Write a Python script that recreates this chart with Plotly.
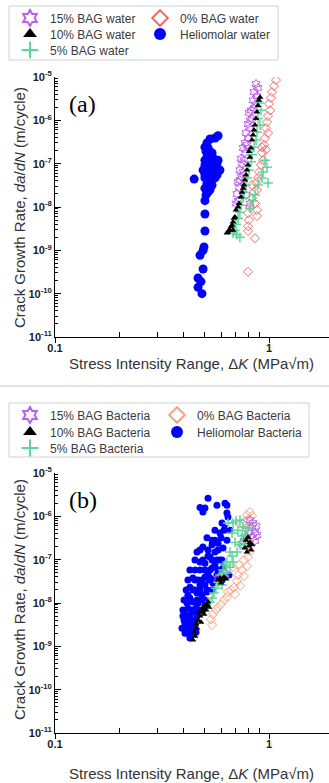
import plotly.graph_objects as go

# ---------------- data (ΔK in MPa√m, da/dN in m/cycle) ----------------
# Panel (a): water
WATER_15 = [(0.870, 6.9e-6), (0.888, 5.6e-6), (0.851, 4.5e-6), (0.879, 3.6e-6), (0.842, 2.9e-6),
            (0.860, 2.3e-6), (0.851, 1.9e-6), (0.824, 1.7e-6), (0.806, 1.5e-6), (0.833, 1.1e-6),
            (0.815, 1.0e-6), (0.798, 8.2e-7), (0.815, 6.6e-7), (0.781, 5.1e-7), (0.798, 3.9e-7),
            (0.772, 3.0e-7), (0.789, 2.7e-7), (0.757, 2.3e-7), (0.772, 1.8e-7), (0.740, 1.3e-7),
            (0.764, 1.2e-7), (0.748, 1.0e-7), (0.731, 7.1e-8), (0.757, 6.4e-8), (0.740, 5.1e-8),
            (0.731, 4.2e-8), (0.717, 3.8e-8), (0.724, 2.8e-8), (0.708, 2.0e-8), (0.717, 1.4e-8),
            (0.701, 1.2e-8), (0.815, 1.2e-8), (0.781, 1.9e-8)]
WATER_10 = [(0.908, 3.4e-6), (0.898, 2.9e-6), (0.888, 2.2e-6), (0.879, 1.55e-6), (0.870, 1.1e-6),
            (0.860, 7.8e-7), (0.851, 6.0e-7), (0.842, 4.6e-7), (0.833, 3.5e-7), (0.824, 2.3e-7),
            (0.806, 1.9e-7), (0.815, 1.4e-7), (0.798, 9.3e-8), (0.789, 7.1e-8), (0.781, 5.5e-8),
            (0.772, 4.2e-8), (0.764, 3.2e-8), (0.757, 2.7e-8), (0.748, 2.2e-8), (0.740, 1.7e-8),
            (0.724, 1.2e-8), (0.717, 1.0e-8), (0.701, 8.5e-9), (0.693, 5.9e-9), (0.686, 5.5e-9),
            (0.679, 4.5e-9), (0.672, 3.8e-9), (0.664, 3.5e-9), (0.657, 2.9e-9), (0.679, 2.9e-9),
            (0.650, 2.9e-9), (0.643, 2.6e-9), (0.636, 2.5e-9)]
WATER_5 = [(0.898, 2.5e-6), (0.918, 1.7e-6), (0.888, 1.1e-6), (0.908, 7.8e-7), (0.879, 5.4e-7),
           (0.870, 3.5e-7), (0.851, 2.4e-7), (0.833, 1.6e-7), (0.824, 1.1e-7), (0.806, 7.1e-8),
           (0.789, 4.7e-8), (0.781, 3.2e-8), (0.764, 2.2e-8), (0.757, 1.6e-8), (0.740, 1.1e-8),
           (0.731, 7.6e-9), (0.717, 5.5e-9), (0.701, 4.0e-9), (0.693, 2.9e-9), (0.708, 2.3e-9),
           (0.679, 2.5e-9), (0.731, 2.0e-9), (0.958, 1.2e-7), (0.979, 8.3e-8), (0.938, 6.4e-8),
           (0.989, 3.6e-8), (0.927, 4.7e-8), (0.888, 3.2e-8), (0.860, 1.9e-8), (0.842, 1.4e-8),
           (0.815, 9.3e-9)]
WATER_0 = [(1.078, 8.5e-6), (1.055, 6.2e-6), (1.033, 4.5e-6), (1.022, 3.3e-6), (1.000, 2.4e-6),
           (1.011, 1.7e-6), (0.989, 1.26e-6), (0.979, 9.1e-7), (0.968, 6.6e-7), (0.989, 5.1e-7),
           (0.958, 3.9e-7), (0.948, 2.7e-7), (0.927, 2.4e-7), (0.968, 2.1e-7), (0.927, 1.8e-7),
           (0.938, 1.2e-7), (0.918, 9.3e-8), (0.898, 6.4e-8), (0.888, 4.7e-8), (0.870, 3.6e-8),
           (0.833, 3.2e-8), (0.879, 2.5e-8), (0.851, 2.2e-8), (0.833, 1.6e-8), (0.860, 1.2e-8),
           (0.815, 1.0e-8), (0.879, 8.5e-9), (0.798, 7.3e-9), (0.879, 6.2e-9), (0.806, 5.0e-9),
           (0.798, 3.6e-9), (0.798, 2.8e-9), (0.860, 1.9e-9), (0.798, 3.2e-10)]
HELIO_WATER = [(0.578, 4.4e-7), (0.560, 3.9e-7), (0.530, 3.7e-7), (0.513, 3.0e-7), (0.502, 2.4e-7),
               (0.519, 2.3e-7), (0.530, 1.9e-7), (0.508, 1.9e-7), (0.542, 1.76e-7), (0.513, 1.4e-7),
               (0.548, 1.35e-7), (0.502, 1.2e-7), (0.578, 1.2e-7), (0.519, 1.1e-7), (0.572, 1.03e-7),
               (0.548, 1.0e-7), (0.502, 9.3e-8), (0.530, 8.3e-8), (0.560, 7.9e-8), (0.492, 7.1e-8),
               (0.590, 7.1e-8), (0.542, 6.4e-8), (0.513, 6.1e-8), (0.572, 5.5e-8), (0.502, 5.5e-8),
               (0.502, 4.7e-8), (0.560, 4.7e-8), (0.447, 4.4e-8), (0.530, 4.2e-8), (0.513, 3.5e-8),
               (0.542, 3.2e-8), (0.502, 2.7e-8), (0.530, 2.5e-8), (0.519, 2.2e-8), (0.508, 1.9e-8),
               (0.502, 1.4e-8), (0.502, 6.9e-9), (0.502, 2.8e-9), (0.497, 1.2e-9), (0.492, 1.0e-9),
               (0.476, 7.7e-10), (0.492, 3.7e-10), (0.466, 2.3e-10), (0.481, 1.9e-10), (0.466, 1.4e-10),
               (0.486, 1.0e-10)]

# Panel (b): bacteria
BACT_15 = [(0.815, 8.2e-7), (0.842, 7.0e-7), (0.870, 6.0e-7), (0.833, 5.4e-7), (0.860, 4.3e-7),
           (0.806, 4.6e-7), (0.879, 3.7e-7), (0.842, 3.3e-7), (0.789, 3.3e-7), (0.860, 2.7e-7),
           (0.764, 2.7e-7), (0.748, 2.3e-7), (0.603, 4.4e-8), (0.578, 3.6e-8), (0.623, 4.6e-8)]
BACT_10 = [(0.441, 1.4e-9), (0.451, 1.7e-9), (0.446, 2.1e-9), (0.461, 2.6e-9), (0.456, 3.3e-9),
           (0.466, 4.0e-9), (0.476, 5.0e-9), (0.471, 6.2e-9), (0.486, 6.2e-9), (0.491, 7.6e-9),
           (0.502, 8.5e-9), (0.513, 9.4e-9), (0.519, 1.05e-8), (0.497, 5.5e-9), (0.508, 6.9e-9),
           (0.524, 8.0e-9), (0.481, 3.6e-9), (0.578, 3.4e-8), (0.590, 3.8e-8), (0.603, 3.4e-8),
           (0.616, 4.0e-8), (0.630, 3.6e-8), (0.597, 2.9e-8), (0.781, 2.8e-7), (0.798, 3.3e-7),
           (0.815, 2.5e-7), (0.806, 2.06e-7), (0.824, 1.67e-7), (0.789, 1.5e-7), (0.833, 2.2e-7),
           (0.772, 1.85e-7)]
BACT_5 = [(0.679, 7.0e-7), (0.701, 7.8e-7), (0.732, 8.2e-7), (0.756, 5.7e-7), (0.716, 4.8e-7),
          (0.672, 4.1e-7), (0.748, 3.5e-7), (0.772, 3.7e-7), (0.694, 2.5e-7), (0.732, 2.2e-7),
          (0.709, 1.5e-7), (0.672, 1.21e-7), (0.657, 1.5e-7), (0.636, 8.8e-8), (0.679, 8.8e-8),
          (0.623, 7.5e-8), (0.657, 6.7e-8), (0.610, 5.8e-8), (0.636, 4.9e-8), (0.590, 4.4e-8),
          (0.578, 3.0e-8), (0.603, 2.6e-8), (0.565, 2.2e-8), (0.553, 1.7e-8), (0.542, 1.3e-8),
          (0.530, 1.05e-8), (0.764, 2.2e-7), (0.798, 5.4e-7), (0.643, 7.0e-7)]
BACT_0 = [(0.815, 1.26e-6), (0.833, 1.02e-6), (0.789, 1.07e-6), (0.798, 8.2e-7), (0.772, 7.8e-7),
          (0.756, 6.6e-7), (0.781, 5.4e-7), (0.806, 4.1e-7), (0.798, 2.2e-7), (0.815, 1.58e-7),
          (0.798, 1.15e-7), (0.764, 9.8e-8), (0.789, 7.1e-8), (0.748, 5.8e-8), (0.764, 4.2e-8),
          (0.716, 4.4e-8), (0.709, 3.2e-8), (0.732, 2.5e-8), (0.686, 2.3e-8), (0.664, 2.0e-8),
          (0.694, 1.6e-8), (0.636, 1.37e-8), (0.616, 1.17e-8), (0.597, 9.4e-9), (0.578, 8.0e-9),
          (0.565, 6.9e-9), (0.547, 5.5e-9), (0.536, 4.2e-9), (0.542, 3.1e-9), (0.643, 1.8e-8),
          (0.679, 6.7e-8), (0.724, 7.5e-8), (0.781, 2.8e-7)]
HELIO_BACT = [(0.519, 2.6e-6), (0.476, 1.6e-6), (0.502, 1.55e-6), (0.491, 1.26e-6), (0.571, 1.8e-6),
              (0.623, 2.0e-6), (0.636, 1.8e-6), (0.636, 1.19e-6), (0.643, 9.6e-7), (0.603, 7.0e-7),
              (0.623, 5.4e-7), (0.513, 3.2e-7), (0.590, 4.1e-7), (0.578, 2.4e-7), (0.461, 1.5e-7),
              (0.491, 1.95e-7), (0.559, 1.5e-7), (0.610, 1.85e-7), (0.530, 1.15e-7), (0.502, 8.3e-8),
              (0.571, 9.8e-8), (0.476, 5.8e-8), (0.542, 6.4e-8), (0.610, 6.7e-8), (0.441, 3.8e-8),
              (0.502, 4.0e-8), (0.571, 4.4e-8), (0.427, 2.3e-8), (0.476, 2.6e-8), (0.547, 2.9e-8),
              (0.418, 1.5e-8), (0.461, 1.7e-8), (0.513, 1.8e-8), (0.414, 1.0e-8), (0.441, 1.05e-8),
              (0.491, 1.17e-8), (0.405, 5.8e-9), (0.437, 6.2e-9), (0.476, 6.9e-9), (0.405, 3.4e-9),
              (0.437, 3.6e-9), (0.414, 2.1e-9), (0.441, 2.4e-9), (0.405, 2.0e-9), (0.427, 1.8e-9),
              (0.650, 4.4e-8), (0.603, 3.4e-8), (0.427, 1.55e-9), (0.451, 5.8e-8), (0.519, 4.4e-8),
              (0.466, 3.4e-8), (0.502, 2.6e-8), (0.530, 3.8e-8), (0.451, 2.0e-8), (0.486, 1.5e-8),
              (0.427, 1.3e-8), (0.466, 1.0e-8), (0.418, 7.6e-9), (0.456, 7.6e-9), (0.502, 8.9e-9),
              (0.427, 5.0e-9), (0.461, 5.0e-9), (0.414, 4.0e-9), (0.451, 3.1e-9), (0.418, 2.8e-9),
              (0.456, 2.1e-9), (0.392, 2.6e-9), (0.396, 5.0e-9), (0.559, 7.5e-8), (0.590, 9.8e-8),
              (0.542, 2.2e-7), (0.519, 1.21e-7), (0.476, 8.8e-8), (0.636, 2.8e-7), (0.657, 4.8e-7),
              (0.597, 3.2e-7),
              (0.418, 3.4e-8), (0.451, 3.4e-8), (0.486, 3.4e-8), (0.524, 3.4e-8), (0.553, 3.4e-8),
              (0.410, 2.0e-8), (0.441, 2.0e-8), (0.476, 2.0e-8), (0.513, 2.0e-8), (0.542, 2.0e-8),
              (0.401, 1.17e-8), (0.427, 1.17e-8), (0.461, 1.17e-8), (0.502, 1.17e-8),
              (0.396, 6.9e-9), (0.437, 6.9e-9), (0.461, 6.9e-9), (0.491, 6.9e-9),
              (0.401, 4.0e-9), (0.427, 4.0e-9), (0.451, 4.0e-9), (0.405, 2.6e-9), (0.432, 2.6e-9),
              (0.427, 5.8e-8), (0.502, 5.8e-8), (0.530, 5.8e-8), (0.578, 5.8e-8),
              (0.451, 9.8e-8), (0.491, 9.8e-8), (0.542, 9.8e-8), (0.603, 9.8e-8),
              (0.476, 1.67e-7), (0.519, 1.67e-7), (0.578, 1.67e-7),
              (0.542, 2.8e-7), (0.559, 2.8e-7), (0.559, 4.8e-7), (0.616, 4.8e-7)]

Y_TICKS = [1e-11, 1e-10, 1e-9, 1e-8, 1e-7, 1e-6, 1e-5]
Y_TICK_TEXT = ["10<sup>-11</sup>", "10<sup>-10</sup>", "10<sup>-9</sup>", "10<sup>-8</sup>",
               "10<sup>-7</sup>", "10<sup>-6</sup>", "10<sup>-5</sup>"]
X_TICKS = [0.1, 1]
X_TICK_TEXT = ["0.1", "1"]
X_MINOR = [0.2, 0.3, 0.4, 0.5, 0.6, 0.7, 0.8, 0.9]

# ---------------- styling / layout ----------------
W, H = 329, 783
ML, MR, MT, MB = 55, 0, 77, 50
PW, PH = W - ML - MR, H - MT - MB
XMAX = -1 + (W - ML) / 214.0          # log10 of right edge (one decade = 214 px)

def fx(px):
    return (px - ML) / PW

def fy(py):
    return (H - MB - py) / PH

FONT = "Liberation Sans, Arial, sans-serif"
VIOLET = "#BF5FEE"
GREEN = "#5ED69A"
RED = "#F26A6A"
SALMON = "#F5A27F"
BLUE = "#0000FF"
BLACK = "#000000"

fig = go.Figure()

# (data, name, panel, symbol, color, size, linewidth, legend symbol position px)
series = [
    (HELIO_WATER, "Heliomolar water", "a", "circle", BLUE, 9, 0, (160, 34)),
    (WATER_0, "0% BAG water", "a", "diamond-open", RED, 7, 1, (160, 18)),
    (WATER_15, "15% BAG water", "a", "hexagram-open", VIOLET, 7, 1, (30, 18)),
    (WATER_5, "5% BAG water", "a", "cross-thin-open", GREEN, 7, 1.5, (30, 50)),
    (WATER_10, "10% BAG water", "a", "triangle-up", BLACK, 6, 0, (30, 34)),
    (HELIO_BACT, "Heliomolar Bacteria", "b", "circle", BLUE, 7, 0, (177, 432)),
    (BACT_0, "0% BAG Bacteria", "b", "diamond-open", SALMON, 7, 1, (177, 415)),
    (BACT_15, "15% BAG Bacteria", "b", "hexagram-open", VIOLET, 7, 1, (30, 415)),
    (BACT_5, "5% BAG Bacteria", "b", "cross-thin-open", GREEN, 7, 1.5, (30, 448)),
    (BACT_10, "10% BAG Bacteria", "b", "triangle-up", BLACK, 6, 0, (30, 432)),
]

legend_layouts = {}
for i, (data, name, panel, sym, col, size, lw, (sx, sy)) in enumerate(series):
    lid = "legend" if i == 0 else f"legend{i + 1}"
    xs = [p[0] for p in data]
    ys = [p[1] for p in data]
    marker = dict(symbol=sym, color=col, size=size)
    if lw:
        marker["line"] = dict(color=col, width=lw)
    fig.add_trace(go.Scatter(
        x=xs, y=ys, mode="markers", name=name, marker=marker,
        xaxis="x" if panel == "a" else "x2",
        yaxis="y" if panel == "a" else "y2",
        legend=lid, hoverinfo="skip"))
    left = sx - 20
    top = sy - 14.5
    legend_layouts[lid] = dict(
        xref="container", yref="container", x=left / W, y=1 - top / H,
        xanchor="left", yanchor="top", bgcolor="rgba(0,0,0,0)", borderwidth=0,
        font=dict(family=FONT, size=12, color="#3A3A3A"), itemsizing="constant",
        orientation="v")

tickfont = dict(family=FONT, size=11, color="#222222", weight="bold")
y_minor = [m * 10.0 ** e for e in range(-11, -5) for m in range(2, 10)]

def xaxis_main(anchor):
    return dict(type="log", range=[-1, XMAX], domain=[0, 1], anchor=anchor,
                showline=True, linecolor="black", linewidth=1, mirror=False,
                ticks="outside", ticklen=5, tickcolor="black",
                tickmode="array", tickvals=X_TICKS, ticktext=X_TICK_TEXT,
                ticklabelstandoff=-4,
                tickfont=tickfont, showgrid=False, zeroline=False,
                minor=dict(ticks="inside", ticklen=5, tickcolor="black",
                           tickmode="array", tickvals=X_MINOR, showgrid=False))

def xaxis_top(overlay, anchor):
    return dict(type="log", range=[-1, XMAX], overlaying=overlay, anchor=anchor, side="top",
                showline=True, linecolor="black", linewidth=1,
                ticks="inside", ticklen=5, tickcolor="black",
                tickmode="array", tickvals=X_MINOR + [1], showticklabels=False,
                showgrid=False, zeroline=False)

def yaxis_main(anchor, domain):
    return dict(type="log", range=[-11, -5], domain=domain, anchor=anchor,
                showline=True, linecolor="black", linewidth=1,
                ticks="inside", ticklen=6, tickcolor="black",
                tickmode="array", tickvals=Y_TICKS, ticktext=Y_TICK_TEXT,
                tickfont=tickfont, showgrid=False, zeroline=False,
                minor=dict(ticks="inside", ticklen=3, tickcolor="black",
                           tickmode="array", tickvals=y_minor, showgrid=False))

def yaxis_right(overlay, anchor):
    return dict(type="log", range=[-11, -5], overlaying=overlay, anchor=anchor, side="right",
                showline=False, ticks="inside", ticklen=4, tickcolor="black",
                tickmode="array", tickvals=Y_TICKS, showticklabels=False,
                showgrid=False, zeroline=False)

dom_a = [fy(337), 1.0]
dom_b = [0.0, fy(473)]

fig.update_layout(
    width=W, height=H,
    margin=dict(l=ML, r=MR, t=MT, b=MB, autoexpand=False),
    paper_bgcolor="white", plot_bgcolor="rgba(0,0,0,0)",
    showlegend=True,
    xaxis=xaxis_main("y"),
    yaxis=yaxis_main("x", dom_a),
    xaxis2=xaxis_main("y2"),
    yaxis2=yaxis_main("x2", dom_b),
    xaxis3=xaxis_top("x", "y"),
    xaxis4=xaxis_top("x2", "y2"),
    yaxis3=yaxis_right("y", "x"),
    yaxis4=yaxis_right("y2", "x2"),
    font=dict(family=FONT),
    **legend_layouts,
)

title_font = dict(family=FONT, size=15, color="#333333")
xtitle = "Stress Intensity Range, Δ<i>K</i> (MPa√m)"
ytitle = "Crack Growth Rate, <i>da</i>/<i>dN</i> (m/cycle)"
annotations = [
    dict(text="(a)", x=fx(67), y=fy(104), xanchor="left", yanchor="middle",
         font=dict(family="Liberation Serif, Times New Roman, serif", size=24, color="black")),
    dict(text="(b)", x=fx(67), y=fy(500), xanchor="left", yanchor="middle",
         font=dict(family="Liberation Serif, Times New Roman, serif", size=24, color="black")),
    dict(text=xtitle, x=fx(191), y=fy(363), xanchor="center", yanchor="middle", font=title_font),
    dict(text=xtitle, x=fx(191), y=fy(773), xanchor="center", yanchor="middle", font=title_font),
    dict(text=ytitle, x=fx(19), y=fy(208), xanchor="center", yanchor="middle",
         textangle=-90, font=title_font),
    dict(text=ytitle, x=fx(19), y=fy(600), xanchor="center", yanchor="middle",
         textangle=-90, font=title_font),
]
for a in annotations:
    a.update(xref="paper", yref="paper", showarrow=False)
fig.update_layout(annotations=annotations)

shapes = [
    dict(type="rect", x0=fx(9), x1=fx(278), y0=fy(60), y1=fy(6),
         line=dict(color="#D0D0D0", width=1)),
    dict(type="rect", x0=fx(9), x1=fx(309), y0=fy(457), y1=fy(403),
         line=dict(color="#D0D0D0", width=1)),
    dict(type="line", x0=fx(0), x1=fx(W), y0=fy(386), y1=fy(386),
         line=dict(color="#C8C8C8", width=1)),
]
for s in shapes:
    s.update(xref="paper", yref="paper", layer="below")
fig.update_layout(shapes=shapes)

fig.write_html("out.html", config={"displayModeBar": False},
               post_script="document.body.style.margin='0px';")
